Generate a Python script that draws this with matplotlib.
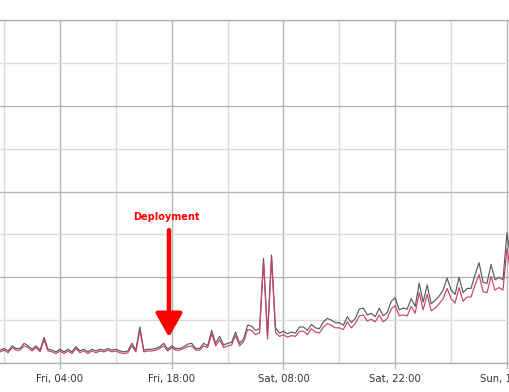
import numpy as np
import matplotlib
matplotlib.use("Agg")
import matplotlib.pyplot as plt
from matplotlib.ticker import FixedLocator

# Time axis: hours relative to Fri 04:00, sampled every 30 minutes
start_hour = -7.5
step_hour = 0.5

series_total = [
    15, 17, 14, 20, 17, 17, 23, 20, 16, 20, 15, 30, 16, 15, 13, 16, 13, 16, 13, 19,
    14, 16, 13, 16, 14, 16, 15, 17, 15, 16, 14, 13, 14, 23, 15, 42, 15, 16, 16, 17,
    19, 23, 16, 20, 17, 17, 19, 22, 23, 17, 17, 23, 20, 38, 23, 31, 21, 23, 24, 36,
    23, 28, 44, 43, 38, 40, 122, 33, 126, 41, 35, 37, 34, 36, 35, 42, 42, 38, 45, 41,
    40, 48, 52, 50, 47, 47, 44, 54, 47, 52, 63, 64, 56, 58, 54, 64, 55, 59, 72, 76,
    62, 64, 63, 75, 66, 93, 71, 91, 69, 73, 78, 85, 99, 85, 80, 100, 82, 87, 87, 103,
    117, 94, 93, 115, 97, 100, 97, 152, 118,
]
series_success = [
    13, 15, 12, 18, 15, 15, 20, 18, 14, 18, 13, 27, 14, 13, 11, 14, 11, 14, 11, 17,
    12, 14, 11, 14, 12, 14, 13, 15, 13, 14, 12, 11, 12, 20, 13, 38, 13, 14, 14, 15,
    17, 20, 14, 18, 15, 15, 17, 19, 20, 15, 15, 20, 18, 34, 20, 27, 18, 20, 21, 32,
    20, 25, 39, 38, 33, 35, 118, 28, 122, 36, 31, 33, 30, 32, 31, 37, 37, 33, 40, 36,
    35, 42, 46, 44, 41, 41, 39, 48, 41, 46, 55, 56, 49, 51, 48, 56, 48, 52, 63, 67,
    55, 56, 55, 66, 58, 82, 62, 80, 61, 64, 69, 75, 87, 75, 70, 88, 72, 77, 77, 91,
    103, 83, 82, 101, 85, 88, 85, 134, 104,
]

tick_hours = [0, 14, 28, 42, 56]
tick_labels = ["Fri, 04:00", "Fri, 18:00", "Sat, 08:00", "Sat, 22:00", "Sun, 12:00"]
minor_hours = [-7, 7, 21, 35, 49]

annotation_text = "Deployment"
annotation_hour = 13.65
annotation_tip = 30
annotation_top = 155

times = start_hour + step_hour * np.arange(len(series_total))

fig = plt.figure(figsize=(5.10, 3.92), dpi=100)
ax = fig.add_axes([0.0, 1 - 363 / 392, 1.0, (363 - 20) / 392])

ax.set_xlim(-7.52, 56.38)
ax.set_ylim(0, 400)

ax.xaxis.set_major_locator(FixedLocator(tick_hours))
ax.xaxis.set_minor_locator(FixedLocator(minor_hours))
ax.set_xticklabels(tick_labels)
ax.yaxis.set_major_locator(FixedLocator([0, 100, 200, 300, 400]))
ax.yaxis.set_minor_locator(FixedLocator([50, 150, 250, 350]))

ax.grid(which="major", color="#b4b4b4", linewidth=1.0)
ax.grid(which="minor", color="#dcdcdc", linewidth=1.0)
ax.set_axisbelow(True)

for s in ["left", "right"]:
    ax.spines[s].set_visible(False)
for s in ["top", "bottom"]:
    ax.spines[s].set_color("#b4b4b4")
    ax.spines[s].set_linewidth(1.0)

ax.tick_params(axis="x", which="major", length=4, width=1, color="#b4b4b4",
               labelsize=7.3, labelcolor="#333333", pad=4)
ax.tick_params(axis="x", which="minor", length=0)
ax.tick_params(axis="y", which="both", length=0, labelleft=False)

ax.plot(times, series_total, color="#555b63", linewidth=0.85)
ax.plot(times, series_success, color="#cc4068", linewidth=0.85)

ax.annotate("", xy=(annotation_hour, annotation_tip),
            xytext=(annotation_hour, annotation_top),
            arrowprops=dict(arrowstyle="-|>,head_length=0.8,head_width=0.45",
                            mutation_scale=18, lw=3.2, color="#ff0000",
                            shrinkA=0, shrinkB=0))
ax.text(annotation_hour - 0.3, 164, annotation_text, color="#ff0000",
        fontsize=7.0, fontweight="bold", ha="center", va="bottom")

fig.savefig("out.png", dpi=100)
